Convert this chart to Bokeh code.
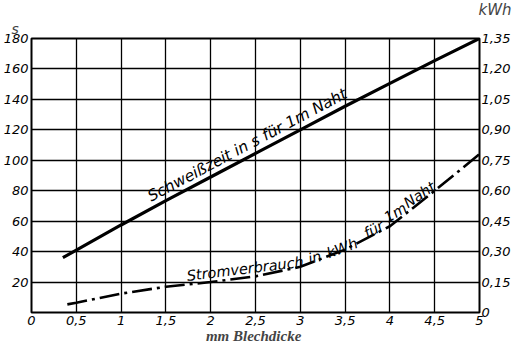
from bokeh.plotting import figure
from bokeh.models import Range1d, LinearAxis, FixedTicker, Title, ColumnDataSource
from bokeh.core.properties import value
from bokeh.embed import file_html
from bokeh.resources import INLINE

# ---- data ----
weld_x_mm = [0.35, 0.5, 1.0, 1.5, 2.0, 2.5, 3.0, 3.5, 4.0, 4.5, 5.0]
weld_time_s = [36, 41, 57.5, 73.5, 89, 104.5, 120, 135.5, 150.5, 165.5, 180]

energy_x_mm = [0.4, 0.5, 1.0, 1.5, 2.0, 2.5, 3.0, 3.5, 4.0, 4.5, 5.0]
energy_kwh = [0.04, 0.048, 0.093, 0.127, 0.15, 0.178, 0.225, 0.31, 0.425, 0.60, 0.78]

x_ticks = [0, 0.5, 1, 1.5, 2, 2.5, 3, 3.5, 4, 4.5, 5]
x_tick_labels = ["0", "0,5", "1", "1,5", "2", "2,5", "3", "3,5", "4", "4,5", "5"]
s_ticks = [0, 20, 40, 60, 80, 100, 120, 140, 160, 180]
s_tick_labels = ["", "20", "40", "60", "80", "100", "120", "140", "160", "180"]
kwh_ticks = [0, 0.15, 0.30, 0.45, 0.60, 0.75, 0.90, 1.05, 1.20, 1.35]
kwh_tick_labels = ["0", "0,15", "0,30", "0,45", "0,60", "0,75", "0,90", "1,05", "1,20", "1,35"]

TICK_FONT = "DejaVu Sans"
TXT_FONT = "DejaVu Sans"

p = figure(frame_width=448, frame_height=274, output_backend="svg", toolbar_location=None,
           x_range=Range1d(0, 5), y_range=Range1d(0, 180),
           min_border_left=0, min_border_right=0, min_border_top=0, min_border_bottom=0)
p.extra_y_ranges = {"kwh": Range1d(0, 1.35)}

p.background_fill_color = "white"
p.border_fill_color = "white"
p.outline_line_color = "black"
p.outline_line_width = 2

# unit labels above the two value axes
p.title.text = "kWh"
p.title.align = "right"
p.title.offset = -32
p.title.standoff = -4
p.title.text_font = TXT_FONT
p.title.text_font_style = "italic"
p.title.text_font_size = "15px"
s_title = Title(text="s", align="left", offset=-20, standoff=4,
                text_font=TXT_FONT, text_font_style="italic", text_font_size="14px")
p.add_layout(s_title, "above")

# grid
p.xgrid.ticker = FixedTicker(ticks=x_ticks)
p.ygrid.ticker = FixedTicker(ticks=s_ticks)
for g in (p.xgrid, p.ygrid):
    g.grid_line_color = "black"
    g.grid_line_width = 1.3

# axes
p.xaxis.ticker = FixedTicker(ticks=x_ticks)
p.xaxis.major_label_overrides = dict(zip(x_ticks, x_tick_labels))
p.xaxis.axis_label = "mm  Blechdicke"
p.xaxis.axis_label_text_font = "Liberation Serif"
p.xaxis.axis_label_text_font_style = "bold italic"
p.xaxis.axis_label_text_font_size = "15px"
p.xaxis.axis_label_standoff = 0
p.xaxis.major_label_standoff = 3

p.yaxis.ticker = FixedTicker(ticks=s_ticks)
p.yaxis.major_label_overrides = dict(zip(s_ticks, s_tick_labels))
p.yaxis.major_label_standoff = 3

right = LinearAxis(y_range_name="kwh", ticker=FixedTicker(ticks=kwh_ticks))
right.major_label_overrides = dict(zip(kwh_ticks, kwh_tick_labels))
right.major_label_standoff = 2
p.add_layout(right, "right")

for ax in (p.xaxis[0], p.yaxis[0], right):
    ax.axis_line_color = None
    ax.major_tick_line_color = None
    ax.minor_tick_line_color = None
    ax.major_tick_out = 0
    ax.major_tick_in = 0
    ax.minor_tick_out = 0
    ax.minor_tick_in = 0
    ax.major_label_text_font = TICK_FONT
    ax.major_label_text_font_style = "italic"
    ax.major_label_text_font_size = "13px"
    ax.major_label_text_color = "black"

# curves
p.line(weld_x_mm, weld_time_s, line_color="black", line_width=3.2)
p.line(energy_x_mm, energy_kwh, y_range_name="kwh", line_color="black",
       line_width=2.6, line_dash="20 5 3 5")

# curve labels (text placed along the curves)
p.text(x=[2.41], y=[110.0], text=["Schweißzeit in s für 1m Naht"], angle=[28.0],
       angle_units="deg", text_font=value(TXT_FONT), text_font_style="italic",
       text_font_size="15.5px", text_align="center", text_baseline="alphabetic",
       text_color="black")

lbl = ColumnDataSource(dict(
    x=[1.733, 3.09, 3.30, 3.72, 3.95, 4.17],
    y=[24.0, 35.0, 38.5, 51.5, 61.5, 71.0],
    t=["Stromverbrauch", "in", "kWh", "für", "1m", "Naht"],
    a=[7, 15, 21, 28, 32, 34],
))
p.text(x="x", y="y", text="t", angle="a", angle_units="deg", source=lbl,
       text_font=value(TXT_FONT), text_font_style="italic", text_font_size="14.5px",
       text_align="left", text_baseline="alphabetic", text_color="black")

open("out.html", "w").write(file_html(p, INLINE))
